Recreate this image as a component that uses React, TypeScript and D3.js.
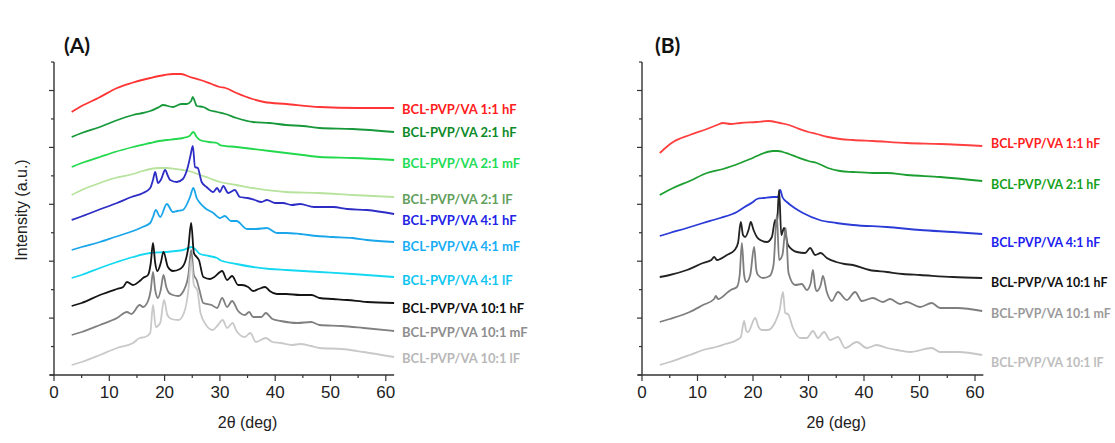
import React from "react";
import * as d3 from "d3";

// ---------- axis ticks ----------
const xMajorTicks = [0, 10, 20, 30, 40, 50, 60];
const xTickLabels = ["0", "10", "20", "30", "40", "50", "60"];
const xMinorTicks = [5, 15, 25, 35, 45, 55];
const yTicks = [0, 28.45, 56.9, 85.35, 113.8, 142.25, 170.7, 199.15, 227.6, 256.05, 284.5, 312.95];

// ---------- panel A data : [2theta (deg), intensity (a.u., offset)] ----------
const a11hF: [number, number][] = [[3.2,263],[5,269],[8,277],[11.4,287],[14,292],[17.4,297],[20,300],[21.5,301],[23,301],[24.6,298],[26.5,295],[28.5,291],[30,288],[31,287],[33,282],[35.9,276],[38,273],[42,271],[48,268],[55,267],[61.5,267]];
const a21hF: [number, number][] = [[3.2,238],[5,242],[8.3,248],[11,254],[14.3,260],[16,262],[17.4,264],[19,268],[19.7,270],[21.5,268],[23,271],[24,271],[24.8,274],[25.1,278],[25.5,273],[25.8,269],[27,268],[28,265],[29.5,263],[31,261],[33,257],[36,253],[39,252],[42,250],[45,249],[48,247],[54,246],[61.5,243]];
const a21mF: [number, number][] = [[3.2,208],[5,212],[8.3,218],[11,223],[14.3,228],[17.4,232],[19,234],[20.4,235],[22,236],[23.3,237],[24.5,239],[25.2,243],[25.8,238],[26.4,235],[28,233],[29.5,232],[30,230],[33,228],[36,226],[39,224],[42,222],[45,220],[48,218],[54,217],[61.5,215]];
const a21lF: [number, number][] = [[3.2,180],[5,185],[8.3,192],[11,197],[14.3,201],[16,204],[17.4,206],[19,207],[20.4,207],[22,206],[23.3,205],[25,203],[26.4,200],[28,197],[30,193],[33,190],[36,187],[42,183],[48,182],[54,180],[61.5,178]];
const a41hF: [number, number][] = [[3.2,155],[4.7,158],[8,165],[11.4,172],[14,178],[16.1,182],[17.4,187],[17.9,195],[18.3,203],[18.8,192],[19.4,196],[20.1,205],[20.6,199],[21,195],[22.2,193],[23.3,196],[24.2,208],[24.7,220],[25.1,229],[25.5,208],[26,207],[26.7,193],[27.6,188],[28.8,183],[29.5,187],[30,183],[30.6,189],[31.5,182],[32.7,185],[33.6,178],[35,177],[36.3,175],[37.5,173],[38.5,175],[40,172],[41.4,172],[43,170],[44.5,171],[47,168],[50.5,168],[53,166],[56.6,165],[61.5,161]];
const a41mF: [number, number][] = [[3.2,125],[5,128],[8.3,133],[11,138],[14.3,144],[16,148],[17.4,152],[17.9,158],[18.4,165],[19.2,158],[20.4,171],[21.5,163],[22.3,164],[23.3,165],[24.6,178],[25.2,187],[25.8,177],[26.4,172],[27.3,167],[28.8,162],[30,157],[30.9,159],[32,154],[33,154],[34.9,146],[36.5,146],[38.5,147],[40.3,142],[42,142],[44.5,141],[47.6,139],[50.5,138],[54,137],[56.6,135],[61.5,133]];
const a41lF: [number, number][] = [[3.2,97],[5,100],[8.3,107],[11.4,113],[14.3,118],[17.4,122],[20.4,123],[22,124],[23.3,125],[24.9,128],[25.5,126],[26.4,121],[28,119],[29.5,117],[30,115],[33,111],[36,108],[39,106],[42,105],[48,103],[54,101],[61.5,98]];
const a101hF: [number, number][] = [[3.2,69],[5,72],[8.3,80],[11.4,86],[12.5,88],[13.2,93],[14.3,90],[15.5,94],[16.1,97],[17,100],[17.5,112],[17.9,132],[18.3,112],[18.7,104],[19.3,112],[19.8,123],[20.6,108],[21.5,104],[22.8,106],[23.7,113],[24.3,128],[24.8,152],[25.3,122],[25.8,118],[26.2,115],[27,98],[28.2,96],[29,98],[30.4,104],[31.3,95],[32.2,99],[33.3,90],[34,90],[35.1,88],[36,84],[37,86],[38.2,88],[39,84],[40.3,81],[42,81],[44.5,80],[46.6,80],[48,77],[50.5,76],[53,75],[56.6,73],[61.5,72]];
const a101mF: [number, number][] = [[3.2,40],[5,43],[8.3,50],[11.4,57],[13.2,63],[14,61],[15.5,70],[16.1,68],[17,74],[17.5,85],[17.9,103],[18.3,85],[18.8,77],[19.3,85],[19.8,100],[20.3,88],[20.8,82],[21.5,80],[22.5,79],[23.5,85],[24.3,100],[24.8,125],[25.3,100],[25.8,95],[26.3,85],[27,72],[28.5,70],[29.5,67],[30.4,77],[31.3,68],[32.2,74],[33.3,64],[34.5,60],[35.3,63],[36,58],[37.5,58],[38.3,62],[39.5,56],[41,54],[44,52],[46.5,53],[48,50],[52,49],[56,47],[61.5,44]];
const a101lF: [number, number][] = [[3.2,10],[5,13],[8.3,20],[11.4,27],[14.3,32],[15.5,37],[16.5,38],[17.4,42],[17.9,70],[18.4,48],[19.2,52],[19.9,75],[20.5,60],[21.2,56],[22.5,55],[23.5,62],[24.3,85],[24.8,115],[25.3,90],[25.9,85],[26.5,62],[27.5,50],[28.7,45],[29.5,49],[30.5,55],[31.3,47],[32.3,52],[33,44],[34.5,38],[35.5,42],[36.5,33],[38.3,37],[39.5,33],[41,32],[43,30],[44.5,31],[46.5,29],[48,27],[52,26],[56,23],[61.5,18]];

// ---------- panel B data ----------
const b11hF: [number, number][] = [[3.2,222],[4,226],[5.6,233],[8.6,240],[11.7,246],[13.5,250],[14.6,252],[16,251],[17.7,252],[20.7,253],[22.7,254],[24.9,252],[26.5,250],[27.9,247],[30,243],[31.5,241],[33.5,238],[35.7,236],[38,235],[41.6,234],[47.7,232],[53.7,231],[61.3,229]];
const b21hF: [number, number][] = [[3.2,180],[5.6,187],[8.6,194],[11.7,202],[14.6,206],[17.7,212],[19.5,216],[20.7,219],[22,222],[23.6,224],[24.5,224],[25.4,223],[26.5,221],[27.9,218],[30,214],[31.5,212],[33.5,207],[35.7,204],[38,203],[41.6,202],[44.2,202],[47.7,200],[53.7,198],[61.3,194]];
const b41hF: [number, number][] = [[3.2,139],[5,142],[8.1,147],[11,152],[14.1,157],[17.1,163],[18.5,168],[20,173],[20.7,176],[22,177],[23.6,178],[24.5,178],[24.9,185],[25.3,178],[26.1,173],[27.5,167],[29,162],[32,155],[35,152],[38,150],[44.1,148],[50.1,145],[56,143],[61.3,141]];
const b101hF: [number, number][] = [[3.2,98],[5,100],[8.1,105],[11,112],[12.5,115],[13,118],[13.5,115],[15.3,120],[16.7,125],[17.3,132],[17.8,153],[18.2,140],[18.6,138],[19.2,145],[19.6,153],[20.1,145],[20.7,138],[21.3,135],[22.5,133],[23.4,138],[24,155],[24.3,150],[24.7,185],[25.1,140],[25.6,147],[26.3,130],[27.9,123],[29.4,122],[30.3,127],[31.2,120],[32.2,122],[33.3,117],[35,113],[36.5,111],[38,110],[41,105],[44.1,103],[47,101],[50.1,100],[56,98],[61.3,97]];
const b101mF: [number, number][] = [[3.2,53],[5,56],[8.6,63],[11,70],[13,76],[13.3,79],[13.7,76],[15.5,83],[16,85],[17.1,88],[17.6,100],[18,132],[18.4,100],[18.8,93],[19.5,100],[20.2,128],[20.6,105],[20.9,100],[21.8,97],[23,99],[23.7,110],[24.3,160],[24.7,115],[25.3,120],[25.9,147],[26.4,102],[27.6,90],[28.8,91],[29.7,85],[30.4,92],[30.8,105],[31.2,88],[31.5,84],[32.2,90],[32.6,99],[33.3,83],[34.2,74],[35.3,83],[36.9,75],[38.4,83],[39.6,74],[41.6,77],[43.4,73],[44.7,76],[46.5,71],[47.7,73],[50.1,68],[52.2,72],[53.7,67],[56.8,67],[61.3,64]];
const b101lF: [number, number][] = [[3.2,10],[5,13],[8.6,20],[11,25],[13.3,28],[15,31],[17.1,35],[17.8,38],[18.4,54],[18.8,44],[19.1,43],[20.4,57],[21,48],[21.6,45],[22.7,45],[24,53],[24.8,65],[25.4,83],[25.8,62],[26.3,61],[27.2,47],[28.5,37],[29.7,37],[30.8,44],[31.7,37],[32.8,43],[33.9,35],[35.3,38],[36.6,27],[38.7,33],[40.5,27],[42.3,30],[44.1,27],[45.9,25],[48.3,23],[52.2,27],[53.7,23],[57,23],[61.3,20]];

const aSeries = [a11hF, a21hF, a21mF, a21lF, a41hF, a41mF, a41lF, a101hF, a101mF, a101lF];
const aNames = ["BCL-PVP/VA 1:1 hF", "BCL-PVP/VA 2:1 hF", "BCL-PVP/VA 2:1 mF", "BCL-PVP/VA 2:1 lF", "BCL-PVP/VA 4:1 hF", "BCL-PVP/VA 4:1 mF", "BCL-PVP/VA 4:1 lF", "BCL-PVP/VA 10:1 hF", "BCL-PVP/VA 10:1 mF", "BCL-PVP/VA 10:1 lF"];
const aLineColors = ["#ff3535", "#17983a", "#22d84c", "#b7e39c", "#2d2dc6", "#1aa6ea", "#14d8f2", "#151515", "#808080", "#c9c9c9"];
const aTextColors = ["#ff2020", "#0d8a28", "#22dd55", "#62a05c", "#2323e6", "#18aef5", "#10c6f0", "#111111", "#8e8e8e", "#b8b8b8"];

const bSeries = [b11hF, b21hF, b41hF, b101hF, b101mF, b101lF];
const bNames = ["BCL-PVP/VA 1:1 hF", "BCL-PVP/VA 2:1 hF", "BCL-PVP/VA 4:1 hF", "BCL-PVP/VA 10:1 hF", "BCL-PVP/VA 10:1 mF", "BCL-PVP/VA 10:1 lF"];
const bLineColors = ["#ff4040", "#1c9e30", "#2b3bd6", "#222222", "#7e7e7e", "#c6c6c6"];
const bTextColors = ["#ff2020", "#16a020", "#2020f0", "#111111", "#9a9a9a", "#bdbdbd"];

const X_MAX = 61.5;
const Y_MAX = 313;

type PanelProps = {
  left: number;
  pxPerDeg: number;
  series: [number, number][][];
  names: string[];
  lineColors: string[];
  textColors: string[];
  labelX: number;
  labelYs: number[];
  labelSize: number;
  tag: string;
  tagX: number;
  showYLabel: boolean;
};

const TOP = 62;
const BOTTOM = 375;

function Panel(p: PanelProps) {
  const x = d3.scaleLinear().domain([0, X_MAX]).range([p.left, p.left + p.pxPerDeg * X_MAX]);
  const y = d3.scaleLinear().domain([0, Y_MAX]).range([BOTTOM, TOP]);
  const line = d3
    .line<[number, number]>()
    .x((d) => x(d[0]))
    .y((d) => y(d[1]))
    .curve(d3.curveMonotoneX);
  const axisColor = "#333";
  const tickFont = "'Liberation Sans', Arial, sans-serif";
  return (
    <g>
      {p.series.map((s, i) => (
        <path key={i} d={line(s) || ""} fill="none" stroke={p.lineColors[i]} strokeWidth={1.8} strokeLinejoin="round" />
      ))}
      <line x1={x(0)} x2={x(0)} y1={TOP} y2={BOTTOM} stroke={axisColor} strokeWidth={1.4} />
      {yTicks.map((t, i) => (
        <line key={"yt" + i} x1={x(0) - (i % 2 === 0 ? 5 : 3)} x2={x(0)} y1={y(t)} y2={y(t)} stroke={axisColor} strokeWidth={1.2} />
      ))}
      <line x1={x(0) - 4} x2={x(X_MAX)} y1={BOTTOM} y2={BOTTOM} stroke={axisColor} strokeWidth={1.4} />
      {xMajorTicks.map((t) => (
        <line key={"xm" + t} x1={x(t)} x2={x(t)} y1={BOTTOM} y2={BOTTOM + 6} stroke={axisColor} strokeWidth={1.2} />
      ))}
      {xMinorTicks.map((t) => (
        <line key={"xn" + t} x1={x(t)} x2={x(t)} y1={BOTTOM} y2={BOTTOM + 3} stroke={axisColor} strokeWidth={1.2} />
      ))}
      {xMajorTicks.map((t, i) => (
        <text key={"xl" + t} x={x(t)} y={398} textAnchor="middle" fontFamily={tickFont} fontSize={17} fill="#222">
          {xTickLabels[i]}
        </text>
      ))}
      <text x={x(35)} y={428} textAnchor="middle" fontFamily={tickFont} fontSize={16} fill="#222">
        2θ (deg)
      </text>
      {p.showYLabel && (
        <text transform={`translate(27,210) rotate(-90)`} textAnchor="middle" fontFamily={tickFont} fontSize={16} fill="#222">
          Intensity (a.u.)
        </text>
      )}
      <text x={p.tagX} y={53} fontFamily="Lato, 'Open Sans', sans-serif" fontWeight={700} fontSize={21} fill="#111">
        {p.tag}
      </text>
      {p.names.map((n, i) => (
        <text key={"lab" + i} x={p.labelX} y={p.labelYs[i]} dominantBaseline="central" fontFamily="Lato, 'Open Sans', sans-serif" fontWeight={700} fontSize={p.labelSize} fill={p.textColors[i]}>
          {n}
        </text>
      ))}
    </g>
  );
}

export default function App() {
  return (
    <svg width={1115} height={443} style={{ position: "absolute", left: 0, top: 0, background: "#fff" }}>
      <rect x={0} y={0} width={1115} height={443} fill="#fff" />
      <Panel
        left={54}
        pxPerDeg={5.53}
        series={aSeries}
        names={aNames}
        lineColors={aLineColors}
        textColors={aTextColors}
        labelX={402}
        labelYs={[109, 132, 163, 199, 220, 246, 280, 308, 332, 358]}
        labelSize={13}
        tag="(A)"
        tagX={64}
        showYLabel={true}
      />
      <Panel
        left={642}
        pxPerDeg={5.55}
        series={bSeries}
        names={bNames}
        lineColors={bLineColors}
        textColors={bTextColors}
        labelX={991}
        labelYs={[143, 184, 242, 282, 313, 362]}
        labelSize={12.4}
        tag="(B)"
        tagX={655}
        showYLabel={false}
      />
    </svg>
  );
}
